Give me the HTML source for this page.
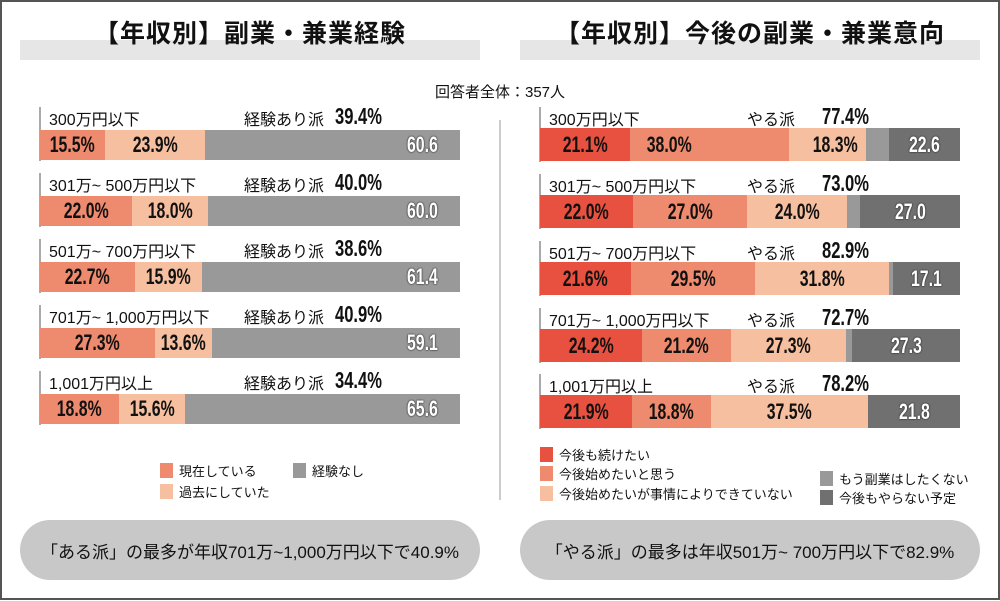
<!DOCTYPE html>
<html><head><meta charset="utf-8"><style>
*{margin:0;padding:0;box-sizing:border-box}
body{width:1000px;height:601px;background:#fff;position:relative;overflow:hidden;font-family:"Liberation Sans","Noto Sans CJK JP",sans-serif;color:#111}
.frame{position:absolute;left:0;top:0;width:1000px;height:600px;border:2px solid #555}
.a{position:absolute}
.band{position:absolute;top:40px;height:20px;background:#e6e6e6}
.title{position:absolute;top:14px;font-size:25px;font-weight:bold;text-align:center;width:460px;letter-spacing:1px}
.lbl{position:absolute;font-size:16px;white-space:nowrap}
.pct{position:absolute;font-weight:bold;font-size:23px;white-space:nowrap;transform:scaleX(.72);transform-origin:left center}
.s{position:absolute;display:flex;align-items:center;justify-content:center;font-weight:bold;font-size:22px;white-space:nowrap}
.s span{display:inline-block;transform:scaleX(.72)}
.w{color:#fff;text-shadow:0 0 2px #333,0 0 2px #333}
.tick{position:absolute;width:2px;background:#aaa}
.lg{position:absolute;font-size:13px;white-space:nowrap;display:flex;align-items:center}
.lg i{display:inline-block;width:13px;height:15px;margin-right:6px}
.pill{position:absolute;top:520px;height:60px;width:460px;background:#c8c8c8;border-radius:30px;display:flex;align-items:center;justify-content:center;font-size:17px}
</style></head><body>
<div class="frame"></div>
<div class="band" style="left:20px;width:460px"></div>
<div class="band" style="left:520px;width:460px"></div>
<div class="title" style="left:20px">【年収別】副業・兼業経験</div>
<div class="title" style="left:520px">【年収別】今後の副業・兼業意向</div>
<div class="lbl" style="left:0;width:1000px;text-align:center;top:81px;font-size:15px">回答者全体：357人</div>
<div class="a" style="left:499px;top:120px;width:2px;height:380px;background:#ccc"></div>

<!-- LEFT -->
<div class="tick" style="left:39px;top:107px;height:54px"></div>
<div class="lbl" style="left:49px;top:106px">300万円以下</div>
<div class="lbl" style="left:244px;top:106px">経験あり派</div><div class="pct" style="left:335px;top:103px">39.4%</div>
<div class="s" style="left:40px;top:130px;width:65px;height:30px;background:#ee8a6e"><span>15.5%</span></div>
<div class="s" style="left:105px;top:130px;width:100px;height:30px;background:#f6c0a0"><span>23.9%</span></div>
<div class="s w" style="left:205px;top:130px;width:255px;height:30px;background:#999;justify-content:flex-end;padding-right:16px"><span>60.6</span></div>

<div class="tick" style="left:39px;top:173px;height:54px"></div>
<div class="lbl" style="left:49px;top:172px">301万~ 500万円以下</div>
<div class="lbl" style="left:244px;top:172px">経験あり派</div><div class="pct" style="left:335px;top:169px">40.0%</div>
<div class="s" style="left:40px;top:196px;width:92px;height:30px;background:#ee8a6e"><span>22.0%</span></div>
<div class="s" style="left:132px;top:196px;width:76px;height:30px;background:#f6c0a0"><span>18.0%</span></div>
<div class="s w" style="left:208px;top:196px;width:252px;height:30px;background:#999;justify-content:flex-end;padding-right:16px"><span>60.0</span></div>

<div class="tick" style="left:39px;top:239px;height:54px"></div>
<div class="lbl" style="left:49px;top:238px">501万~ 700万円以下</div>
<div class="lbl" style="left:244px;top:238px">経験あり派</div><div class="pct" style="left:335px;top:235px">38.6%</div>
<div class="s" style="left:40px;top:262px;width:95px;height:30px;background:#ee8a6e"><span>22.7%</span></div>
<div class="s" style="left:135px;top:262px;width:67px;height:30px;background:#f6c0a0"><span>15.9%</span></div>
<div class="s w" style="left:202px;top:262px;width:258px;height:30px;background:#999;justify-content:flex-end;padding-right:16px"><span>61.4</span></div>

<div class="tick" style="left:39px;top:305px;height:54px"></div>
<div class="lbl" style="left:49px;top:304px">701万~ 1,000万円以下</div>
<div class="lbl" style="left:244px;top:304px">経験あり派</div><div class="pct" style="left:335px;top:301px">40.9%</div>
<div class="s" style="left:40px;top:328px;width:115px;height:30px;background:#ee8a6e"><span>27.3%</span></div>
<div class="s" style="left:155px;top:328px;width:57px;height:30px;background:#f6c0a0"><span>13.6%</span></div>
<div class="s w" style="left:212px;top:328px;width:248px;height:30px;background:#999;justify-content:flex-end;padding-right:16px"><span>59.1</span></div>

<div class="tick" style="left:39px;top:371px;height:54px"></div>
<div class="lbl" style="left:49px;top:370px">1,001万円以上</div>
<div class="lbl" style="left:244px;top:370px">経験あり派</div><div class="pct" style="left:335px;top:367px">34.4%</div>
<div class="s" style="left:40px;top:394px;width:79px;height:30px;background:#ee8a6e"><span>18.8%</span></div>
<div class="s" style="left:119px;top:394px;width:66px;height:30px;background:#f6c0a0"><span>15.6%</span></div>
<div class="s w" style="left:185px;top:394px;width:275px;height:30px;background:#999;justify-content:flex-end;padding-right:16px"><span>65.6</span></div>

<div class="lg" style="left:160px;top:461px"><i style="background:#ee8a6e"></i>現在している</div>
<div class="lg" style="left:293px;top:461px"><i style="background:#999"></i>経験なし</div>
<div class="lg" style="left:160px;top:482px"><i style="background:#f6c0a0"></i>過去にしていた</div>

<!-- RIGHT -->
<div class="tick" style="left:539px;top:107px;height:55px"></div>
<div class="lbl" style="left:549px;top:106px">300万円以下</div>
<div class="lbl" style="left:747px;top:106px">やる派</div><div class="pct" style="left:822px;top:103px">77.4%</div>
<div class="s" style="left:540px;top:128px;width:90px;height:33px;background:#e8503f"><span>21.1%</span></div>
<div class="s" style="left:630px;top:128px;width:159px;height:33px;background:#ee8a6e;justify-content:flex-start;padding-left:8px"><span>38.0%</span></div>
<div class="s" style="left:789px;top:128px;width:77px;height:33px;background:#f6c0a0;justify-content:flex-end;padding-right:0"><span>18.3%</span></div>
<div class="a" style="left:866px;top:128px;width:23px;height:33px;background:#999"></div>
<div class="s w" style="left:889px;top:128px;width:71px;height:33px;background:#707070"><span>22.6</span></div>

<div class="tick" style="left:539px;top:174px;height:55px"></div>
<div class="lbl" style="left:549px;top:173px">301万~ 500万円以下</div>
<div class="lbl" style="left:747px;top:173px">やる派</div><div class="pct" style="left:822px;top:170px">73.0%</div>
<div class="s" style="left:540px;top:195px;width:93px;height:33px;background:#e8503f"><span>22.0%</span></div>
<div class="s" style="left:633px;top:195px;width:114px;height:33px;background:#ee8a6e"><span>27.0%</span></div>
<div class="s" style="left:747px;top:195px;width:100px;height:33px;background:#f6c0a0"><span>24.0%</span></div>
<div class="a" style="left:847px;top:195px;width:13px;height:33px;background:#999"></div>
<div class="s w" style="left:860px;top:195px;width:100px;height:33px;background:#707070"><span>27.0</span></div>

<div class="tick" style="left:539px;top:241px;height:55px"></div>
<div class="lbl" style="left:549px;top:240px">501万~ 700万円以下</div>
<div class="lbl" style="left:747px;top:240px">やる派</div><div class="pct" style="left:822px;top:237px">82.9%</div>
<div class="s" style="left:540px;top:262px;width:91px;height:33px;background:#e8503f"><span>21.6%</span></div>
<div class="s" style="left:631px;top:262px;width:124px;height:33px;background:#ee8a6e"><span>29.5%</span></div>
<div class="s" style="left:755px;top:262px;width:134px;height:33px;background:#f6c0a0"><span>31.8%</span></div>
<div class="a" style="left:889px;top:262px;width:4px;height:33px;background:#999"></div>
<div class="s w" style="left:893px;top:262px;width:67px;height:33px;background:#707070"><span>17.1</span></div>

<div class="tick" style="left:539px;top:308px;height:55px"></div>
<div class="lbl" style="left:549px;top:307px">701万~ 1,000万円以下</div>
<div class="lbl" style="left:747px;top:307px">やる派</div><div class="pct" style="left:822px;top:304px">72.7%</div>
<div class="s" style="left:540px;top:329px;width:102px;height:33px;background:#e8503f"><span>24.2%</span></div>
<div class="s" style="left:642px;top:329px;width:89px;height:33px;background:#ee8a6e"><span>21.2%</span></div>
<div class="s" style="left:731px;top:329px;width:115px;height:33px;background:#f6c0a0"><span>27.3%</span></div>
<div class="a" style="left:846px;top:329px;width:6px;height:33px;background:#999"></div>
<div class="s w" style="left:852px;top:329px;width:108px;height:33px;background:#707070"><span>27.3</span></div>

<div class="tick" style="left:539px;top:374px;height:55px"></div>
<div class="lbl" style="left:549px;top:373px">1,001万円以上</div>
<div class="lbl" style="left:747px;top:373px">やる派</div><div class="pct" style="left:822px;top:370px">78.2%</div>
<div class="s" style="left:540px;top:395px;width:92px;height:33px;background:#e8503f"><span>21.9%</span></div>
<div class="s" style="left:632px;top:395px;width:79px;height:33px;background:#ee8a6e"><span>18.8%</span></div>
<div class="s" style="left:711px;top:395px;width:157px;height:33px;background:#f6c0a0"><span>37.5%</span></div>
<div class="s w" style="left:868px;top:395px;width:92px;height:33px;background:#707070"><span>21.8</span></div>

<div class="lg" style="left:540px;top:445px"><i style="background:#e8503f"></i>今後も続けたい</div>
<div class="lg" style="left:540px;top:464px"><i style="background:#ee8a6e"></i>今後始めたいと思う</div>
<div class="lg" style="left:540px;top:484px"><i style="background:#f6c0a0"></i>今後始めたいが事情によりできていない</div>
<div class="lg" style="left:820px;top:469px"><i style="background:#999"></i>もう副業はしたくない</div>
<div class="lg" style="left:820px;top:488px"><i style="background:#707070"></i>今後もやらない予定</div>

<div class="pill" style="left:20px">「ある派」の最多が年収701万~1,000万円以下で40.9%</div>
<div class="pill" style="left:520px">「やる派」の最多は年収501万~ 700万円以下で82.9%</div>
</body></html>
